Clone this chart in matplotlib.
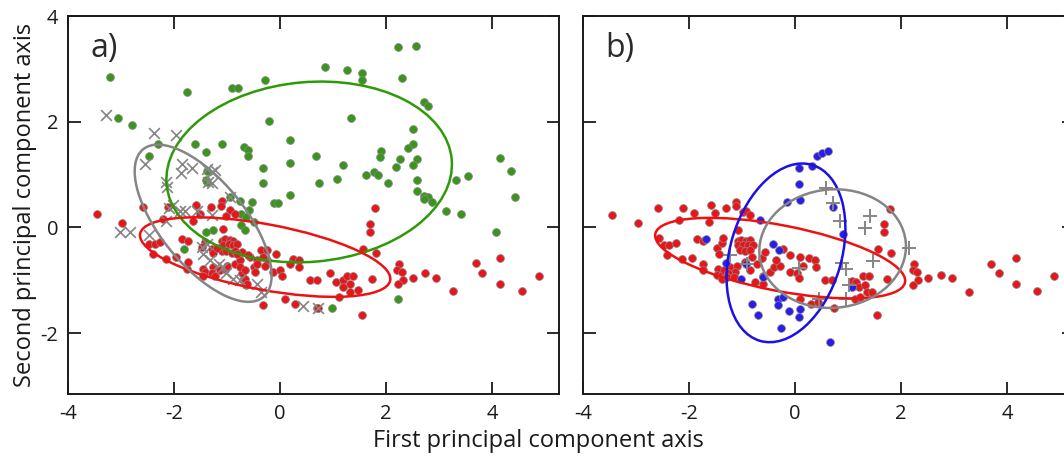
import matplotlib
matplotlib.use("Agg")
import matplotlib.pyplot as plt
from matplotlib.patches import Ellipse

plt.rcParams['font.family'] = ['Open Sans', 'DejaVu Sans']
plt.rcParams['axes.unicode_minus'] = False

# ---------------- Panel a data ----------------
a_green_x = [-3.21, -3.06, -2.80, -1.75, -0.90, -0.80, -0.28, -0.20, -2.31, -2.47, -1.60, -1.39, -1.10,
             -0.68, -0.61, -0.61, 0.19, 0.19, -0.32, -0.32, 0.19, 0.68, 0.74, -1.40,
             0.84, 1.27, 1.55, 1.55, 2.22, 2.56, 2.30, 2.72, 2.79, 1.34, 2.50, 2.50, 2.41, 1.91, 1.89,
             1.19, 2.26, 2.58, 2.50, 2.19, 1.62, 1.77, 1.85, 1.08, 2.04, 2.58, 2.58, 2.72, 2.80, 2.72, 2.87,
             3.33, 3.55, 4.15, 4.36, 4.44, 3.13, 3.42, 4.08, 2.22, 0.99, 0.70,
             -0.11, -0.04, -1.37, -1.37, -0.94, -0.75, -0.53, -0.59, -0.74, -0.64, -0.74, -0.66, -1.27, -1.40,
             -1.82, -0.69, -0.65, -0.49]
a_green_y = [2.85, 2.08, 1.93, 2.57, 2.64, 2.64, 2.78, 2.01, 1.58, 1.36, 1.58, 1.43, 1.58,
             1.52, 1.47, 1.36, 1.66, 1.22, 1.12, 0.84, 0.62, 1.36, 0.84, 0.89,
             3.04, 2.97, 2.93, 2.79, 3.41, 3.44, 2.82, 2.38, 2.30, 2.08, 1.86, 1.58, 1.51, 1.44, 1.33,
             1.19, 1.29, 1.29, 1.19, 1.15, 0.99, 1.04, 0.99, 0.91, 0.84, 0.89, 0.69, 0.60, 0.58, 0.53, 0.48,
             0.89, 0.98, 1.31, 1.06, 0.58, 0.32, 0.25, -0.09, -1.35, -1.53, -1.53,
             0.47, 0.47, 1.06, 0.86, 0.58, 0.51, 0.49, 0.33, 0.26, 0.20, 0.04, -0.04, -0.04, -0.09,
             -0.40, -1.00, -1.08, 0.10]

a_red_x = [-3.46, -2.98, -2.59, -2.11, -2.20, -1.58, -1.31, -1.10, -1.11, -0.94, -0.85, -1.02, -1.51, -1.64,
           -1.08, -2.48, -2.36, -2.26, -2.40, -2.15, -1.96, -1.84, -1.73, -1.76, -1.73,
           -1.42, -1.48, -1.29, -1.45, -1.42, -1.45, -1.26, -1.29, -1.23, -1.13, -1.04, -1.00,
           -1.10, -1.04, -0.94, -0.88, -1.07, -0.97, -0.88, -0.82, -1.10, -1.01, -0.91, -0.85, -1.26, -1.19,
           -0.72, -0.57, -0.44, -0.35, -0.25, -0.25, -0.28, -0.50, -0.47, -0.13, 0.00, -0.08, 0.03,
           -0.85, -0.75, -0.72, -0.66, -0.63, -0.82, -0.60, -0.75, -0.66, -0.44, -0.32,
           -0.32, 0.09, 0.28, 0.25, 0.36, 0.36, 0.18, 0.57, 0.69,
           0.94, 1.06, 1.19, 1.26, 1.37, 1.32, 1.19, 1.33, 1.48, 1.12,
           1.69, 1.69, 1.57, 1.80, 1.81, 1.73, 1.54, 0.72,
           2.24, 2.21, 2.30, 2.33, 2.22, 2.50, 2.74, 2.94, 3.27,
           3.69, 3.82, 4.16, 4.16, 4.56, 4.88]
a_red_y = [0.25, 0.09, 0.38, 0.38, 0.16, 0.42, 0.38, 0.50, 0.40, 0.33, 0.25, 0.22, 0.26, 0.13,
           -0.03, -0.31, -0.31, -0.28, -0.50, -0.59, -0.56, -0.21, -0.26, -0.78, -0.65,
           -0.28, -0.37, -0.40, -0.78, -0.84, -0.91, -0.75, -0.87, -0.91, -0.81, -0.78, -0.72,
           -0.25, -0.21, -0.23, -0.25, -0.34, -0.32, -0.34, -0.31, -0.45, -0.45, -0.48, -0.44, -0.48, -0.39,
           -0.47, -0.56, -0.62, -0.43, -0.43, -0.62, -0.72, -0.75, -0.84, -0.84, -0.81, -0.50, -0.91,
           -0.69, -0.62, -0.87, -0.97, -1.06, -0.50, -0.53, -0.75, -0.81, -0.69, -0.56,
           -1.47, -1.36, -1.44, -0.59, -0.62, -0.74, -0.69, -0.99, -0.99,
           -0.87, -1.03, -0.99, -0.91, -0.91, -1.06, -1.13, -1.22, -1.19, -1.32,
           0.07, -0.09, -0.40, 0.36, -0.48, -0.97, -1.66, -1.52,
           -0.70, -0.81, -0.84, -0.99, -1.06, -0.95, -0.87, -0.95, -1.21,
           -0.67, -0.86, -0.58, -1.06, -1.21, -0.92]

a_grey_x = [-3.29, -2.37, -1.96, -2.54, -1.84, -1.87, -1.66, -2.15, -2.14, -1.38, -1.29, -1.23, -1.35, -1.29,
            -0.94, -3.02, -2.83, -2.48, -2.09, -1.89, -1.79, -2.15, -2.01, -1.29, -1.57,
            -1.48, -1.38, -1.45, -1.32, -1.16, -1.07, -1.01, -0.88, -0.75, -0.44, -0.35, 0.44, 0.72]
a_grey_y = [2.13, 1.79, 1.75, 1.20, 1.20, 1.03, 1.12, 0.86, 0.76, 1.11, 1.04, 1.08, 0.86, 0.84,
            0.57, -0.09, -0.09, -0.15, 0.37, 0.32, 0.32, 0.13, 0.42, 0.23, 0.31,
            -0.37, -0.31, -0.50, -0.62, -0.69, -0.75, -0.87, -0.97, -1.00, -1.06, -1.22, -1.49, -1.53]

# ---------------- Panel b data ----------------
b_red_x = [-3.46, -2.97, -2.59, -2.18, -2.11, -1.91, -1.58, -1.51, -1.62, -1.31, -1.11, -1.11, -0.98, -0.92, -0.85,
           -2.56, -2.48, -2.37, -2.25, -2.41, -2.14, -1.95, -1.84, -1.73, -1.74, -1.73,
           -1.48, -1.43, -1.38, -1.35, -1.45, -1.48, -1.38, -1.34, -1.07,
           -1.07, -1.01, -0.92, -0.85, -1.07, -0.98, -0.88, -0.80, -1.04, -0.94, -0.85,
           -1.23, -1.10, -1.13, -1.26, -1.38, -1.29, -1.16,
           -0.94, -0.82, -0.72, -0.85, -0.63, -0.57,
           -0.75, -0.61, -0.60, -0.48, -0.40, -0.28, -0.35, -0.23,
           -0.09, 0.09, 0.26, 0.38, 0.39, 0.16, -0.09, 0.03, 0.08,
           0.09, 0.30, 0.44,
           1.79, 1.68, 1.68, 1.57, 1.81, 0.57, 0.69,
           1.07, 1.16, 1.28, 1.40, 1.21, 1.32, 1.35, 1.13, 1.23, 1.45, 1.73, 0.74, 1.54,
           2.25, 2.22, 2.31, 2.33, 2.22, 2.50, 2.75, 2.96, 3.28,
           3.69, 3.84, 4.17, 4.17, 4.57, 4.89]
b_red_y = [0.24, 0.08, 0.37, 0.15, 0.37, 0.27, 0.42, 0.27, 0.11, 0.37, 0.48, 0.40, 0.29, 0.32, 0.24,
           -0.19, -0.34, -0.34, -0.30, -0.53, -0.60, -0.57, -0.21, -0.26, -0.69, -0.80,
           -0.38, -0.50, -0.30, -0.19, -0.78, -0.89, -0.89, -0.81, -0.04,
           -0.25, -0.23, -0.25, -0.23, -0.34, -0.34, -0.34, -0.34, -0.43, -0.45, -0.43,
           -0.75, -0.72, -0.84, -0.87, -0.97, -0.94, -0.94,
           -0.65, -0.56, -0.69, -0.81, -0.57, -0.47,
           -1.03, -1.06, -0.91, -0.84, -0.75, -0.72, -0.62, -0.40,
           -0.52, -0.55, -0.57, -0.62, -0.75, -0.72, -0.84, -0.87, -0.95,
           -1.36, -1.44, -1.41,
           0.34, 0.06, -0.09, -0.41, -0.48, -1.00, -1.00,
           -1.02, -1.03, -0.92, -0.92, -1.13, -1.08, -1.22, -1.35, -1.31, -1.22, -0.97, -1.52, -1.66,
           -0.70, -0.81, -0.85, -1.00, -1.08, -0.96, -0.89, -0.96, -1.23,
           -0.69, -0.87, -0.58, -1.06, -1.21, -0.92]

b_blue_x = [0.42, 0.51, 0.62, 0.08, 0.33, 0.07, -0.16, 0.09, -0.66, -1.68, -0.41, -0.30, 0.91, 0.72,
            -1.30, -0.92, -1.01, -0.60, 1.07, -0.82, -0.33, -0.23, -0.33, -0.11, 0.09, 0.08, -0.69, -0.27, 0.66]
b_blue_y = [1.36, 1.41, 1.44, 1.13, 1.16, 0.82, 0.49, 0.52, 0.15, -0.22, -0.31, -0.42, -0.12, 0.38,
            -0.67, -0.70, -0.97, -0.94, -1.13, -1.44, -1.35, -1.31, -1.47, -1.58, -1.55, -1.70, -1.65, -1.90, -2.16]

b_grey_x = [0.58, 0.71, 0.84, 1.42, 1.32, 2.16, 1.47, 0.88, 0.96, 1.01, 0.46, 0.96, 0.07, -1.23, -0.91]
b_grey_y = [0.75, 0.46, 0.12, 0.21, -0.01, -0.39, -0.64, -0.67, -0.78, -1.08, -1.36, -1.36, -0.77, -0.53, -0.69]

# ---------------- Ellipses: center x, center y, width, height, angle ----------------
a_ell_green = [0.55, 1.05, 5.4, 3.4, 5]
a_ell_red = [-0.28, -0.56, 4.8, 1.24, -10.6]
a_ell_grey = [-1.45, 0.08, 3.6, 1.6, -51]
b_ell_red = [-0.28, -0.58, 4.8, 1.24, -11]
b_ell_blue = [-0.17, -0.48, 3.47, 2.10, 73.5]
b_ell_grey = [0.71, -0.40, 2.77, 2.24, 5]

panel_labels = ['a)', 'b)']
x_ticks = [-4, -2, 0, 2, 4]
y_ticks = [-2, 0, 2, 4]

RED = '#e8161b'
GREEN = '#3b951c'
BLUE = '#2b1de8'
GREY = '#858585'
ELL_RED = '#ee1111'
ELL_GREEN = '#2e9a0a'
ELL_BLUE = '#1c10e6'

fig = plt.figure(figsize=(10.64, 4.59), dpi=100)
W, H = 1064.0, 459.0
axA = fig.add_axes([68 / W, (459 - 394) / H, 491 / W, 378 / H])
axB = fig.add_axes([583 / W, (459 - 394) / H, 491 / W, 378 / H])

dot_kw = dict(s=32, edgecolors='#8a8a8a', linewidths=0.5, zorder=2)

axA.scatter(a_green_x, a_green_y, color=GREEN, **dot_kw)
axA.scatter(a_red_x, a_red_y, color=RED, **dot_kw)
axA.scatter(a_grey_x, a_grey_y, marker='x', s=60, color=GREY, linewidths=1.2, zorder=3)

axB.scatter(b_red_x, b_red_y, color=RED, **dot_kw)
axB.scatter(b_blue_x, b_blue_y, color=BLUE, **dot_kw)
axB.scatter(b_grey_x, b_grey_y, marker='+', s=110, color=GREY, linewidths=1.4, zorder=3)


def add_ell(ax, p, color):
    ax.add_patch(Ellipse((p[0], p[1]), p[2], p[3], angle=p[4], fill=False,
                         edgecolor=color, linewidth=1.8, zorder=4))


add_ell(axA, a_ell_green, ELL_GREEN)
add_ell(axA, a_ell_red, ELL_RED)
add_ell(axA, a_ell_grey, GREY)
add_ell(axB, b_ell_red, ELL_RED)
add_ell(axB, b_ell_blue, ELL_BLUE)
add_ell(axB, b_ell_grey, GREY)

for ax, lab in zip([axA, axB], panel_labels):
    ax.set_xlim(-4.0, 5.264)
    ax.set_ylim(-3.15, 3.98)
    ax.set_xticks(x_ticks)
    ax.set_yticks(y_ticks)
    ax.tick_params(direction='in', length=9, width=1.3, top=True, right=True,
                   labelsize=14.5, pad=7, colors='#1a1a1a')
    for sp in ax.spines.values():
        sp.set_linewidth(1.4)
        sp.set_color('#1a1a1a')
    ax.text(0.045, 0.915, lab, transform=ax.transAxes, fontsize=23, color='#2a2a2a',
            va='center', ha='left')

axB.tick_params(labelleft=False)
axA.set_ylabel('Second principal component axis', fontsize=17, color='#1a1a1a')
axA.yaxis.set_label_coords(-0.064, 0.5)
fig.text(538 / W, 1 - 441 / H, 'First principal component axis', fontsize=17,
         color='#1a1a1a', ha='center', va='center')

fig.savefig('out.png', dpi=100)
